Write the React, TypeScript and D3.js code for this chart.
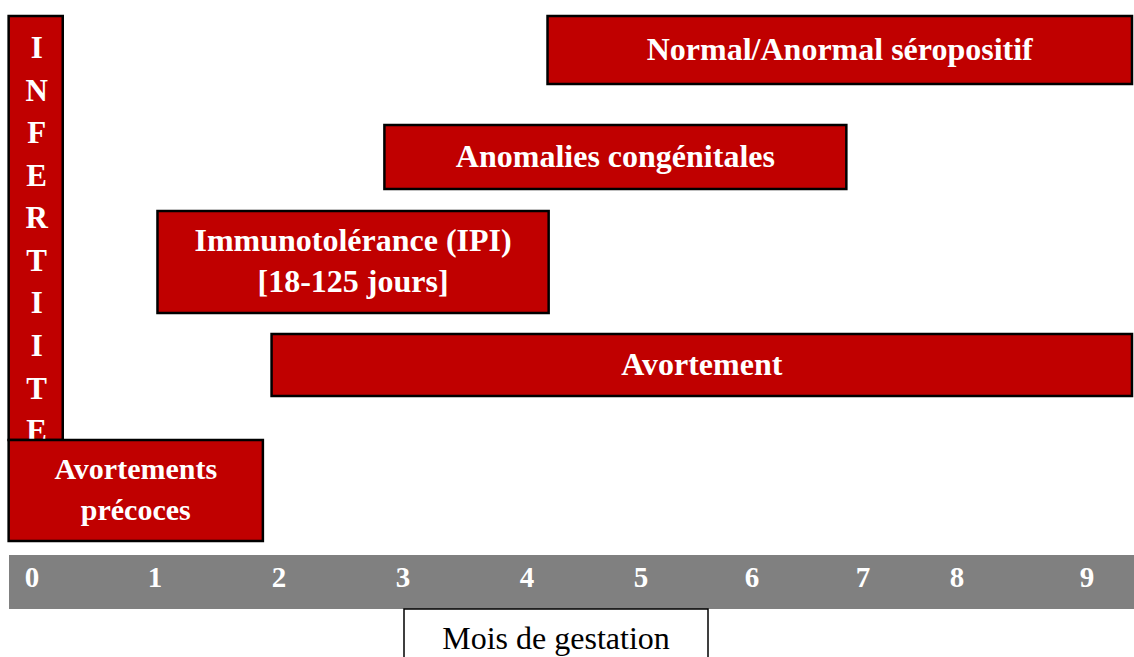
import * as d3 from 'd3';

// months of gestation
const MONTHS = [0, 1, 2, 3, 4, 5, 6, 7, 8, 9];
// where each month sits along the band (the original spacing is uneven)
const MONTH_X = [32, 155, 279, 403, 527, 641, 752, 863, 957, 1087];

const PERIOD_LABELS = [
    ['Normal/Anormal séropositif'],
    ['Anomalies congénitales'],
    ['Immunotolérance (IPI)', '[18-125 jours]'],
    ['Avortement'],
    ['Avortements', 'précoces'],
];
const PERIOD_START = [4.18, 2.85, 1.02, 1.94, -0.19];
const PERIOD_END = [9.36, 6.85, 4.19, 9.36, 1.87];

// the vertical "INFERTILITE" strip (letters as they show in the picture)
const INFERT_LETTERS = ['I', 'N', 'F', 'E', 'R', 'T', 'I', 'I', 'T', 'E'];
const INFERT_START = -0.19;
const INFERT_END = 0.25;

const AXIS_TITLE = 'Mois de gestation';

const W = 1134;
const H = 657;
const RED = '#c00000';
const FONT = '"Liberation Serif", "Times New Roman", serif';

// vertical extent and label size of each period row
const ROW_TOP = [16, 125, 211, 334, 440];
const ROW_BOT = [84, 189, 313, 396, 541];
const ROW_FONT = [32, 32, 32, 32, 30];

export default function App() {
    const x = d3.scaleLinear().domain(MONTHS).range(MONTH_X);
    const letterY = d3.scalePoint<number>()
        .domain(d3.range(INFERT_LETTERS.length))
        .range([47, 430]);

    const bandTop = 555;
    const bandBot = 609;

    return (
        <svg width={W} height={H} style={{ position: 'absolute', left: 0, top: 0 }}
            fontFamily={FONT}>
            <defs>
                <clipPath id="infClip">
                    <rect x={x(INFERT_START)} y={16} width={x(INFERT_END) - x(INFERT_START)} height={440 - 16} />
                </clipPath>
            </defs>

            {/* infertility strip */}
            <g>
                <rect x={x(INFERT_START)} y={16}
                    width={x(INFERT_END) - x(INFERT_START)} height={440 - 16}
                    fill={RED} stroke="#000" strokeWidth={2.5} />
                <g clipPath="url(#infClip)">
                    {INFERT_LETTERS.map((l, i) => (
                        <text key={i} x={(x(INFERT_START) + x(INFERT_END)) / 2 + 1} y={letterY(i)}
                            dy="0.36em" textAnchor="middle" fill="#fff" fontWeight={700} fontSize={31}>
                            {l}
                        </text>
                    ))}
                </g>
            </g>

            {PERIOD_LABELS.map((lines, i) => {
                const x0 = x(PERIOD_START[i]);
                const x1 = Math.min(x(PERIOD_END[i]), W - 2);
                const y0 = ROW_TOP[i];
                const y1 = ROW_BOT[i];
                const cy = (y0 + y1) / 2;
                const lh = 41;
                return (
                    <g key={i}>
                        <rect x={x0} y={y0} width={x1 - x0} height={y1 - y0}
                            fill={RED} stroke="#000" strokeWidth={2.5} />
                        {lines.map((t, j) => (
                            <text key={j} x={(x0 + x1) / 2} y={cy - 2 + (j - (lines.length - 1) / 2) * lh}
                                dy="0.36em" textAnchor="middle" fill="#fff" fontWeight={700} fontSize={ROW_FONT[i]}>
                                {t}
                            </text>
                        ))}
                    </g>
                );
            })}

            {/* month band */}
            <rect x={9} y={bandTop} width={W - 9} height={bandBot - bandTop} fill="#808080" />
            {MONTHS.map(m => (
                <text key={m} x={x(m)} y={577} dy="0.36em" textAnchor="middle"
                    fill="#fff" fontWeight={700} fontSize={29}>
                    {m}
                </text>
            ))}

            {/* axis title box */}
            <rect x={404} y={bandBot} width={304} height={60} fill="#fff" stroke="#000" strokeWidth={1.5} />
            <text x={556} y={637} dy="0.36em" textAnchor="middle" fill="#000" fontSize={32}>
                {AXIS_TITLE}
            </text>
        </svg>
    );
}
